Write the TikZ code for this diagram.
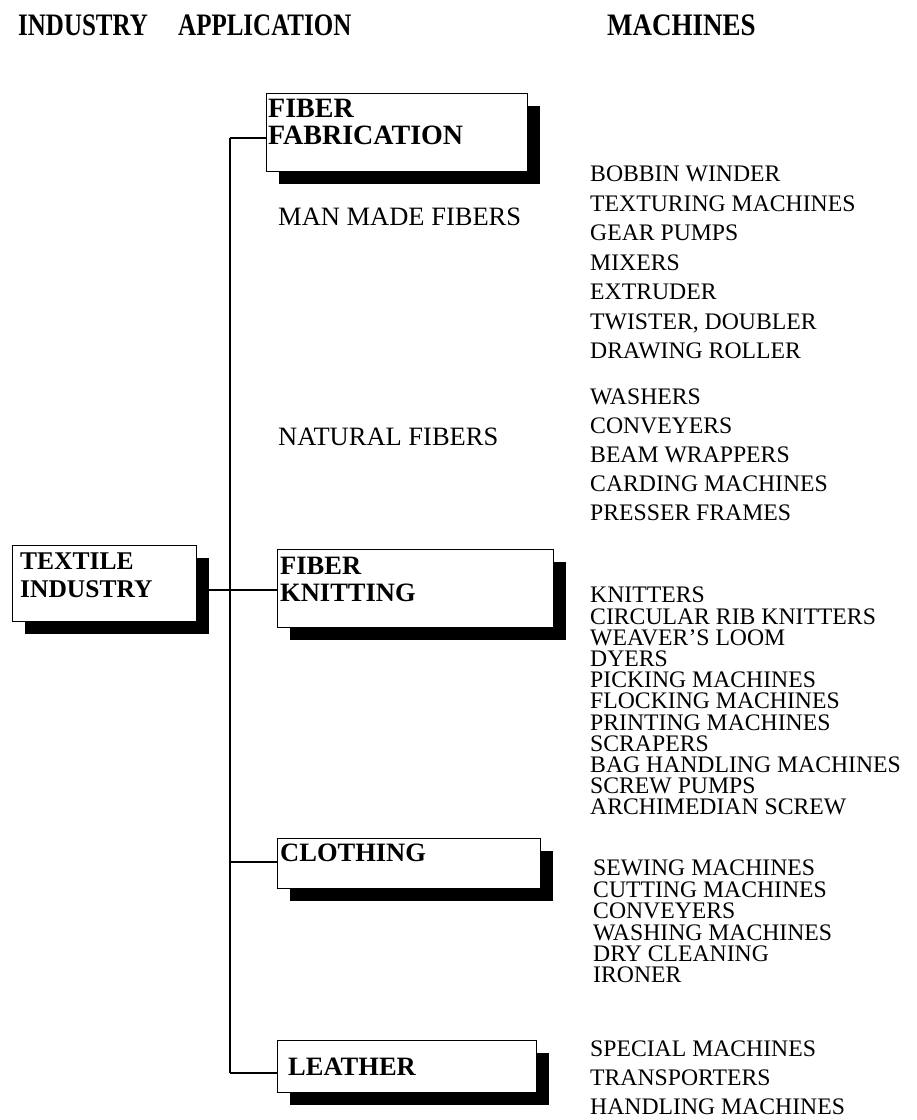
\documentclass[tikz,border=0pt]{standalone}
\usepackage{fontspec}
\setmainfont{Liberation Serif}
\usetikzlibrary{shadows}

\tikzset{
  hdr/.style={font=\bfseries\fontsize{25}{27}\selectfont, anchor=base west, inner sep=0pt, yscale=1.25, transform shape},
  boxtxt/.style={font=\bfseries\fontsize{26.5}{28}\selectfont, anchor=base west, inner sep=0pt},
  apptxt/.style={font=\fontsize{26.5}{28}\selectfont, anchor=base west, inner sep=0pt},
  item/.style={font=\fontsize{23.7}{25}\selectfont, anchor=base west, inner sep=0pt,
    text height=16.5pt, text depth=3pt},
  shbox/.style={draw=black, line width=1.4pt, fill=white, inner sep=0pt, anchor=north west,
    drop shadow={shadow xshift=12pt, shadow yshift=-12pt, fill=black, opacity=1}},
  wire/.style={line width=1.8pt}
}

\begin{document}
\begin{tikzpicture}[x=1pt, y=-1pt]
  \useasboundingbox (0,0) rectangle (917,1120);

  % column headings
  \node[hdr] (h1) at (18,35) {INDUSTRY};
  \node[hdr] (h2) at (178,35) {APPLICATION};
  \node[hdr, xscale=1.08] (h3) at (607,35) {MACHINES};

  % boxes with drop shadows
  \node[shbox, minimum width=184pt, minimum height=76pt] (tex) at (12,545) {};
  \node[shbox, minimum width=261pt, minimum height=78pt] (fab) at (266,93) {};
  \node[shbox, minimum width=276pt, minimum height=78pt] (knit) at (277,549) {};
  \node[shbox, minimum width=263pt, minimum height=50pt] (clo) at (277,838) {};
  \node[shbox, minimum width=259pt, minimum height=52pt] (lea) at (277,1040) {};

  % box captions
  \node[boxtxt, font=\bfseries\fontsize{25.5}{28}\selectfont] (tex1) at (20,569) {TEXTILE};
  \node[boxtxt, font=\bfseries\fontsize{25.5}{28}\selectfont] (tex2) at (20,597) {INDUSTRY};
  \node[boxtxt, font=\bfseries\fontsize{28}{30}\selectfont] (fab1) at (268,117.5) {FIBER};
  \node[boxtxt, font=\bfseries\fontsize{28}{30}\selectfont] (fab2) at (268,144.5) {FABRICATION};
  \node[boxtxt] (knit1) at (280,574) {FIBER};
  \node[boxtxt] (knit2) at (280,601) {KNITTING};
  \node[boxtxt] (clo1) at (280,861) {CLOTHING};
  \node[boxtxt] (lea1) at (288,1075) {LEATHER};

  % connectors
  \coordinate (ttop) at (230,138);
  \coordinate (tj) at (230,590);
  \coordinate (tclo) at (230,862);
  \coordinate (tbot) at (230,1073);
  \draw[wire] (ttop) -- (tbot);
  \draw[wire] (ttop) -- (ttop -| fab.west);
  \draw[wire] (tj -| tex.east) -- (tj -| knit.west);
  \draw[wire] (tclo) -- (tclo -| clo.west);
  \draw[wire] (tbot) -- (tbot -| lea.west);

  % application sub-groups
  \node[apptxt] (mm) at (278,225.8) {MAN MADE FIBERS};
  \node[apptxt] (nat) at (278,445.8) {NATURAL FIBERS};

  % machine lists
  \foreach \t [count=\i from 0] in {BOBBIN WINDER, TEXTURING MACHINES, GEAR PUMPS, MIXERS, EXTRUDER, {TWISTER, DOUBLER}, DRAWING ROLLER}
    \node[item] (ma\i) at (590,{181.8+29.5*\i}) {\t};
  \foreach \t [count=\i from 0] in {WASHERS, CONVEYERS, BEAM WRAPPERS, CARDING MACHINES, PRESSER FRAMES}
    \node[item] (mb\i) at (590,{404.8+29*\i}) {\t};
  \foreach \t [count=\i from 0] in {KNITTERS, CIRCULAR RIB KNITTERS, WEAVER’S LOOM, DYERS, PICKING MACHINES, FLOCKING MACHINES, PRINTING MACHINES, SCRAPERS, BAG HANDLING MACHINES, SCREW PUMPS, ARCHIMEDIAN SCREW}
    \node[item] (mc\i) at (590,{602.8+21.2*\i}) {\t};
  \foreach \t [count=\i from 0] in {SEWING MACHINES, CUTTING MACHINES, CONVEYERS, WASHING MACHINES, DRY CLEANING, IRONER}
    \node[item] (md\i) at (593,{875.8+21.4*\i}) {\t};
  \foreach \t [count=\i from 0] in {SPECIAL MACHINES, TRANSPORTERS, HANDLING MACHINES}
    \node[item] (me\i) at (590,{1056.8+29*\i}) {\t};
\end{tikzpicture}
\end{document}
